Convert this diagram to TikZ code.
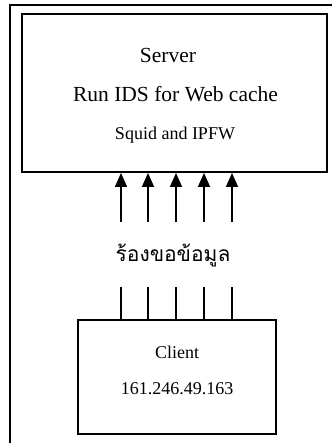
\documentclass[tikz,border=0pt]{standalone}
\usepackage{fontspec}
\setmainfont{Liberation Serif}
\newfontfamily\thaifont[Script=Thai]{Loma}
\usetikzlibrary{arrows.meta}
\begin{document}
\begin{tikzpicture}[x=1pt,y=-1pt,
  box/.style={draw, line width=1.8pt, inner sep=0pt},
  frameline/.style={line width=1.5pt},
  req/.style={line width=1.4pt},
  reqarrow/.style={req, -{Triangle[length=14pt,width=12pt]}},
  bigtext/.style={font=\fontsize{21.5}{26}\selectfont, inner sep=0pt},
  smalltext/.style={font=\fontsize{18}{22}\selectfont, inner sep=0pt}]
\useasboundingbox (0,0) rectangle (332,443);
% outer frame (partially visible)
\coordinate (fbl) at (10,443);
\coordinate (ftl) at (10,5);
\coordinate (ftr) at (332,5);
\draw[frameline] (fbl) -- (ftl) -- (ftr);
% server box
\node[box, minimum width=305pt, minimum height=158pt] (server) at (174.5,93) {};
\node[bigtext] (t1) at (168,55) {Server};
\node[bigtext] (t2) at (175.5,94) {Run IDS for Web cache};
\node[smalltext] (t3) at (175,135) {Squid and IPFW};
% client box
\node[box, minimum width=198pt, minimum height=114pt] (client) at (177,377) {};
\node[smalltext] (c1) at (177,352) {Client};
\node[smalltext] (c2) at (177,389) {161.246.49.163};
% label
\node[inner sep=0pt, font=\thaifont\fontsize{21}{25}\selectfont] (lbl) at (173,255) {ร้องขอข้อมูล};
% arrows
\foreach \i/\x in {1/121,2/148,3/176,4/204,5/232}{
  \coordinate (a\i) at (\x,222);
  \coordinate (b\i) at (\x,287);
  \draw[reqarrow] (a\i) -- (a\i |- server.south);
  \draw[req] (b\i) -- (b\i |- client.north);
}
\end{tikzpicture}
\end{document}
